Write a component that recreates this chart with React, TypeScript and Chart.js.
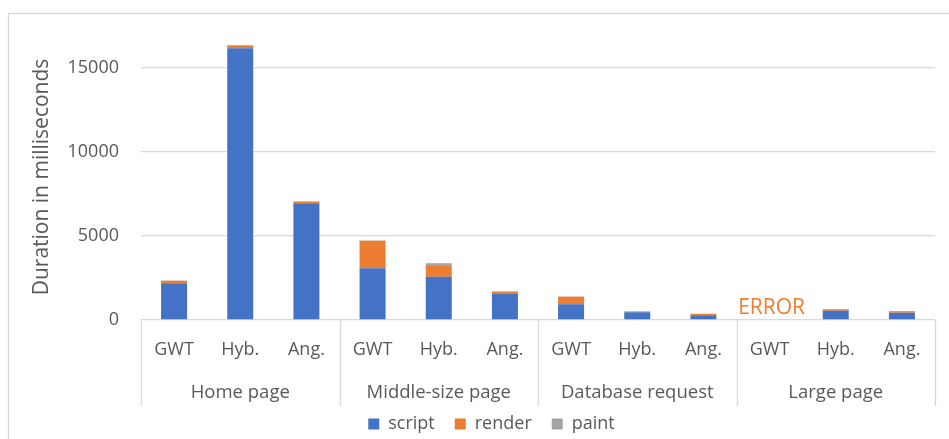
import React, { useEffect, useRef } from "react";
import { Chart, registerables } from "chart.js";

Chart.register(...registerables);

const categories = ["GWT", "Hyb.", "Ang.", "GWT", "Hyb.", "Ang.", "GWT", "Hyb.", "Ang.", "GWT", "Hyb.", "Ang."];
const groups = ["Home page", "Middle-size page", "Database request", "Large page"];
const scriptValues = [2185, 16170, 6945, 3075, 2580, 1548, 940, 456, 278, 0, 556, 437];
const renderValues = [155, 170, 100, 1640, 635, 140, 440, 50, 90, 0, 90, 90];
const paintValues = [15, 30, 20, 20, 160, 20, 15, 10, 10, 0, 10, 10];
const yTicks = [0, 5000, 10000, 15000];
const errorIndex = 9;
const errorText = "ERROR";
const yTitle = "Duration in milliseconds";

const FONT = "'Open Sans', sans-serif";
const GREY = "#595959";
const LINE = "#d9d9d9";

const overlay = {
  id: "overlay",
  afterDraw(chart: any) {
    const { ctx, chartArea, scales } = chart;
    const x = scales.x;
    ctx.save();
    // outer border
    ctx.strokeStyle = LINE;
    ctx.lineWidth = 1.3;
    ctx.beginPath();
    ctx.moveTo(8.5, chart.height);
    ctx.lineTo(8.5, 13.5);
    ctx.lineTo(chart.width, 13.5);
    ctx.stroke();
    // group separators
    const gw = (chartArea.right - chartArea.left) / groups.length;
    ctx.beginPath();
    for (let k = 0; k <= groups.length; k++) {
      const px = Math.round(chartArea.left + k * gw) + 0.5;
      ctx.moveTo(px, chartArea.bottom);
      ctx.lineTo(px, 406);
    }
    ctx.stroke();
    // group labels
    ctx.fillStyle = GREY;
    ctx.font = `18.5px ${FONT}`;
    ctx.textAlign = "center";
    ctx.textBaseline = "middle";
    groups.forEach((g, k) => {
      const cx = (x.getPixelForValue(k * 3) + x.getPixelForValue(k * 3 + 2)) / 2;
      ctx.fillText(g, cx, 393);
    });
    // error label
    ctx.fillStyle = "#ED7D31";
    ctx.font = `21px ${FONT}`;
    ctx.fillText(errorText, x.getPixelForValue(errorIndex) + 2, 308);
    // y title
    ctx.fillStyle = GREY;
    ctx.font = `21px ${FONT}`;
    ctx.translate(42, 177);
    ctx.rotate(-Math.PI / 2);
    ctx.fillText(yTitle, 0, 0);
    ctx.restore();
  },
};

export default function App() {
  const ref = useRef<HTMLCanvasElement>(null);
  useEffect(() => {
    if (!ref.current) return;
    const chart = new Chart(ref.current, {
      type: "bar",
      data: {
        labels: categories,
        datasets: [
          { label: "script", data: scriptValues, backgroundColor: "#4472C4", barPercentage: 0.393, categoryPercentage: 1 },
          { label: "render", data: renderValues, backgroundColor: "#ED7D31", barPercentage: 0.393, categoryPercentage: 1 },
          { label: "paint", data: paintValues, backgroundColor: "#A5A5A5", barPercentage: 0.393, categoryPercentage: 1 },
        ],
      },
      options: {
        animation: false,
        responsive: false,
        layout: { padding: { left: 48, right: 14, top: 34.4, bottom: 2 } },
        plugins: {
          legend: {
            position: "bottom",
            labels: {
              boxWidth: 11,
              boxHeight: 11,
              padding: 20,
              color: GREY,
              font: { family: FONT, size: 18 },
            },
          },
          tooltip: { enabled: false },
        },
        scales: {
          x: {
            stacked: true,
            grid: { display: false, drawTicks: false },
            border: { display: false },
            ticks: {
              color: GREY,
              font: { family: FONT, size: 18 },
              padding: 19,
              maxRotation: 0,
              autoSkip: false,
            },
            afterFit: (s: any) => {
              s.height = 75;
            },
          },
          y: {
            stacked: true,
            min: 0,
            max: 17000,
            grid: { color: LINE, lineWidth: 1.3, drawTicks: false },
            border: { display: false },
            ticks: {
              stepSize: 5000,
              color: GREY,
              font: { family: FONT, size: 18 },
              padding: 22,
              callback: (v: any) => String(v),
            },
            afterBuildTicks: (s: any) => {
              s.ticks = yTicks.map((v) => ({ value: v }));
            },
            afterFit: (s: any) => {
              s.width = 93;
            },
          },
        },
      },
      plugins: [overlay],
    });
    return () => chart.destroy();
  }, []);
  return (
    <div style={{ position: "fixed", left: 0, top: 0, width: 949, height: 445, background: "#fff" }}>
      <canvas ref={ref} width={949} height={445} style={{ display: "block", width: 949, height: 445 }} />
    </div>
  );
}
